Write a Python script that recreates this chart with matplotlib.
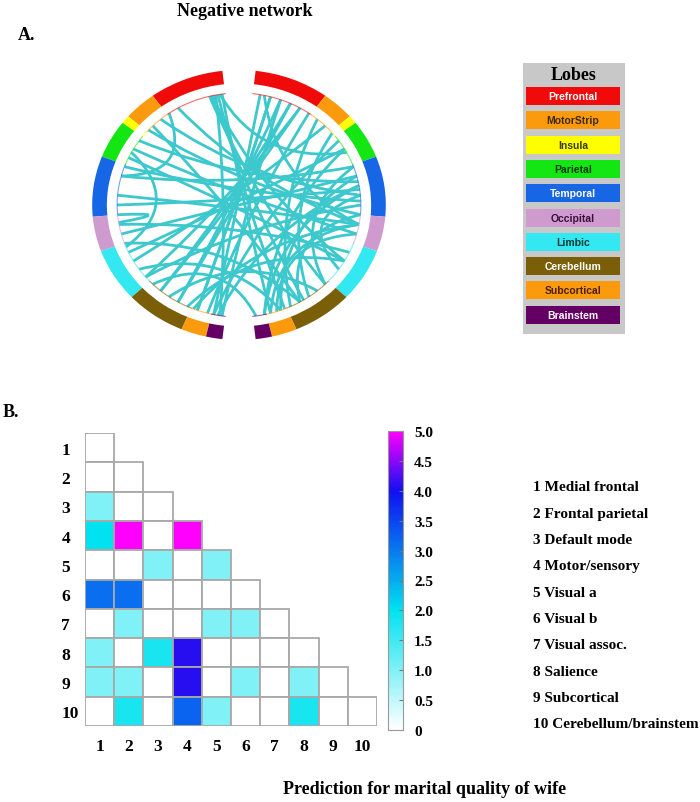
import numpy as np
import matplotlib
matplotlib.use('Agg')
import matplotlib.pyplot as plt
from matplotlib.patches import Wedge, Rectangle, PathPatch
from matplotlib.path import Path
from matplotlib.colors import LinearSegmentedColormap, Normalize
from matplotlib.cm import ScalarMappable

plt.rcParams['font.family'] = ['Liberation Serif', 'DejaVu Serif']
plt.rcParams['font.weight'] = 'bold'

# lobes (same order on both hemispheres, top -> bottom)
lobe_names = ['Prefrontal', 'MotorStrip', 'Insula', 'Parietal', 'Temporal',
              'Occipital', 'Limbic', 'Cerebellum', 'Subcortical', 'Brainstem']
lobe_colors = ['#f00a0a', '#fb9a0c', '#ffff00', '#14e614', '#1766e6',
               '#cf9bcf', '#33e8f0', '#7a5f08', '#fb9a0c', '#640064']
lobe_text_colors = ['white', '#3a2a00', '#3a3a00', '#003a00', 'white',
                    '#3a103a', '#003a3a', 'white', '#4a2000', 'white']
# lobe boundaries, degrees clockwise from top (mirrored on left side)
lobe_bounds = [6.5, 36, 49, 52.5, 69, 95, 110, 133, 157, 167, 173.5]

# chord end points, degrees clockwise from top (negative = left hemisphere)
chord_from = [-8, -10, -12, -14, -9, -11, -13,
              10, 15, 20, 25, 30, 12,
              -30, -40, -48, -55, -60, -35, -45,
              -65, -70, -75, -85, -90, -95, -100, -62,
              -105, -115, -120, -130, -140, -125, -110, -135,
              -150, -160, -165, -168, -170, -158, -155, -145,
              40, 50, 60, 70, 75, 85, 95, 100, 80, 105, 90]
chord_to = [165, 158, 148, 135, 62, -171, 120,
            -168, -160, -172, -150, -140, 100,
            100, 85, 95, 78, 105, -75, 150,
            120, 88, 70, 100, 82, -99, 115, -112,
            75, 60, 45, 30, 25, 160, 150, 172,
            20, 15, 35, 55, 80, 100, 120, 140,
            155, 145, 168, 135, 160, 125, 150, 165, 168, 162, -130]

# heatmap: lower triangle, rows 1..10
network_names = ['1 Medial frontal', '2 Frontal parietal', '3 Default mode',
                 '4 Motor/sensory', '5 Visual a', '6 Visual b', '7 Visual assoc.',
                 '8 Salience', '9 Subcortical', '10 Cerebellum/brainstem']
tick_labels = [str(i) for i in range(1, 11)]
conn_values = [
    [0],
    [0, 0],
    [1.0, 0, 0],
    [2.0, 5.0, 0, 5.0],
    [0, 0, 1.0, 0, 1.0],
    [3.1, 3.1, 0, 0, 0, 0],
    [0, 1.0, 0, 0, 1.0, 1.0, 0],
    [1.0, 0, 1.8, 4.1, 0, 0, 0, 0],
    [1.0, 1.0, 0, 4.1, 0, 1.0, 0, 1.0, 0],
    [0, 1.8, 0, 3.2, 1.0, 0, 0, 1.8, 0, 0],
]
cbar_ticks = [0, 0.5, 1.0, 1.5, 2.0, 2.5, 3.0, 3.5, 4.0, 4.5, 5.0]
cbar_labels = ['0', '0.5', '1.0', '1.5', '2.0', '2.5', '3.0', '3.5', '4.0', '4.5', '5.0']

W, H = 700, 803
fig = plt.figure(figsize=(W / 100, H / 100), dpi=100)


def px(x0, y0, x1, y1):
    # pixel box (top-left origin) -> figure fraction rect
    return [x0 / W, 1 - y1 / H, (x1 - x0) / W, (y1 - y0) / H]


fig.text(245 / W, 1 - 12 / H, 'Negative network', ha='center', va='center', fontsize=13)
fig.text(18 / W, 1 - 35 / H, 'A.', ha='left', va='center', fontsize=13)
fig.text(3 / W, 1 - 413 / H, 'B.', ha='left', va='center', fontsize=13)

# ---- A. circle plot ----
ax = fig.add_axes(px(77.5, 57.5, 400.5, 354.5))
ax.set_xlim(-1.1, 1.1)
ax.set_ylim(-1.1, 1.1)
ax.axis('off')
r_chord = 0.83
for side in (1, -1):
    for i in range(len(lobe_names)):
        a0, a1 = lobe_bounds[i], lobe_bounds[i + 1]
        if side == 1:
            t1, t2 = 90 - a1, 90 - a0
        else:
            t1, t2 = 90 + a0, 90 + a1
        ax.add_patch(Wedge((0, 0), 1.0, t1, t2, width=0.1, color=lobe_colors[i], lw=0))
        th = np.radians(np.linspace(t1, t2, 30))
        ax.plot(r_chord * np.cos(th), r_chord * np.sin(th), color=lobe_colors[i], lw=0.8, alpha=0.6)

for a, b in zip(chord_from, chord_to):
    p0 = r_chord * np.array([np.sin(np.radians(a)), np.cos(np.radians(a))])
    p2 = r_chord * np.array([np.sin(np.radians(b)), np.cos(np.radians(b))])
    c = (p0 + p2) / 2 * 0.5
    path = Path([p0, c, p2], [Path.MOVETO, Path.CURVE3, Path.CURVE3])
    ax.add_patch(PathPatch(path, fc='none', ec='#3cc8cc', lw=2))

# ---- lobe legend ----
axl = fig.add_axes(px(523, 64, 625, 335))
axl.set_xlim(0, 102)
axl.set_ylim(271, 0)
axl.set_facecolor('#c8c8c8')
axl.set_xticks([])
axl.set_yticks([])
for s in axl.spines.values():
    s.set_visible(False)
axl.text(51, 11, 'Lobes', ha='center', va='center', fontsize=13)
for i, name in enumerate(lobe_names):
    y = 24 + 24.3 * i
    axl.add_patch(Rectangle((3, y), 94, 18, color=lobe_colors[i], lw=0))
    axl.text(50, y + 9, name, ha='center', va='center', fontsize=7.5,
             family=['Liberation Sans', 'DejaVu Sans'], color=lobe_text_colors[i])

# ---- B. heatmap ----
cmap = LinearSegmentedColormap.from_list(
    'wcbm', [(0, 'white'), (0.4, '#00e2ef'), (0.8, '#1010f0'), (1.0, '#ff00ff')])
norm = Normalize(0, 5)

axh = fig.add_axes(px(85, 434, 377, 727))
axh.set_xlim(0, 10)
axh.set_ylim(10, 0)
for i, row in enumerate(conn_values):
    for j, v in enumerate(row):
        axh.add_patch(Rectangle((j, i), 1, 1, fc=cmap(norm(v)), ec='#a8a8a8', lw=1.3))
for s in axh.spines.values():
    s.set_visible(False)
axh.set_xticks(np.arange(10) + 0.5)
axh.set_xticklabels(tick_labels, fontsize=12.5)
axh.set_yticks(np.arange(10) + 0.5)
axh.set_yticklabels(tick_labels, fontsize=12.5, ha='left')
axh.tick_params(axis='x', length=0, pad=9)
axh.tick_params(axis='y', length=0, pad=17)

cax = fig.add_axes(px(388, 432, 403, 731))
cb = fig.colorbar(ScalarMappable(norm=norm, cmap=cmap), cax=cax)
cb.set_ticks(cbar_ticks)
cb.set_ticklabels(cbar_labels)
cb.outline.set_edgecolor('#999999')
cax.tick_params(length=3, direction='in', color='#777777', labelsize=11, pad=8)

for i, name in enumerate(network_names):
    fig.text(533 / W, 1 - (488 + 26.3 * i) / H, name, ha='left', va='center', fontsize=11)

fig.text(425 / W, 1 - 790 / H, 'Prediction for marital quality of wife',
         ha='center', va='center', fontsize=13)

fig.savefig('out.png', dpi=100)
